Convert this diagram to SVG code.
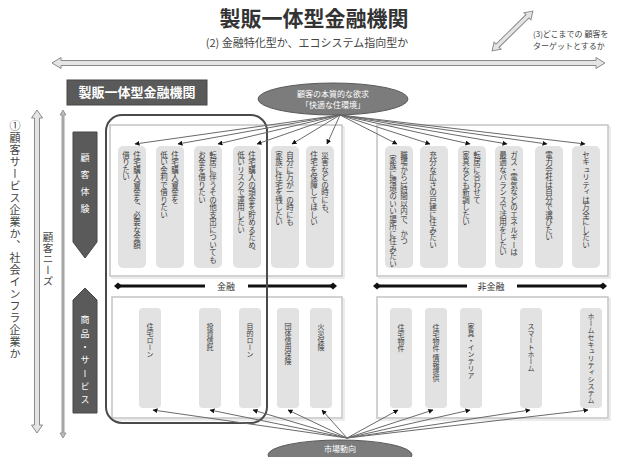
<svg xmlns="http://www.w3.org/2000/svg" width="630" height="457" viewBox="0 0 630 457">
<style>
text{font-family:"Noto Sans CJK JP","Noto Sans",sans-serif;}
.v{writing-mode:vertical-rl;}
.ct{font-size:7.5px;fill:#3a3a3a;}
.bt{font-size:7px;fill:#3a3a3a;}
.col{fill:#e2e2e2;}
.panel{fill:#fff;stroke:#c4c4c4;stroke-width:1.5;}
.shadow{fill:none;stroke:#e6e6e6;stroke-width:1.5;}
.hollow{fill:#e4e4e4;stroke:#8a8a8a;stroke-width:1;}
.dark{fill:#5a5a5a;stroke:#474747;stroke-width:1;}
.ell{fill:#7c7c7c;stroke:#5a5a5a;stroke-width:1;}
.wt{fill:#fff;}
.conn line{stroke:#6a6a6a;stroke-width:1;marker-end:url(#ah);}
.bar{stroke:#111;stroke-width:3;}
.lbl{fill:#444;}
</style>
<defs>
<marker id="ah" viewBox="0 0 10 10" refX="9" refY="5" markerWidth="5" markerHeight="5" markerUnits="userSpaceOnUse" orient="auto">
<path d="M0,0 L10,5 L0,10 Z" fill="#111"/>
</marker>
<path id="dia" d="M-4,0 L0,-3.5 L4,0 L0,3.5 Z" fill="#111"/>
</defs>

<g id="title">
<text x="314" y="26" text-anchor="middle" font-size="21" font-weight="bold" fill="#333">製販一体型金融機関</text>
<text x="307" y="47" text-anchor="middle" font-size="11" class="lbl">(2) 金融特化型か、エコシステム指向型か</text>
</g>

<g id="axis-h">
<path class="hollow" d="M52,63 L61,57.5 L61,60.5 L596,60.5 L596,57.5 L605,63 L596,68.5 L596,65.5 L61,65.5 L61,68.5 Z"/>
</g>

<g id="axis-diag" transform="translate(512.5,31) rotate(-44.5)">
<path class="hollow" d="M-28.5,0 L-21,-5 L-21,-2.2 L21,-2.2 L21,-5 L28.5,0 L21,5 L21,2.2 L-21,2.2 L-21,5 Z"/>
</g>
<g id="label-3">
<text x="533" y="37" font-size="8" class="lbl">(3)どこまでの 顧客を</text>
<text x="533" y="49" font-size="8" class="lbl">ターゲットとするか</text>
</g>

<g id="axis-v">
<path class="hollow" d="M37,110 L42.5,118 L39.5,118 L39.5,425 L42.5,425 L37,433 L31.5,425 L34.5,425 L34.5,118 L31.5,118 Z"/>
<text class="v lbl" x="15" y="120" font-size="11" letter-spacing="1">①顧客サービス企業か、社会インフラ企業か</text>
</g>
<g id="needs">
<path d="M63,110 L66,115 L64,115 L64,433 L66,433 L63,438 L60,433 L62,433 L62,115 L60,115 Z" fill="#bbb" stroke="#888" stroke-width="0.8"/>
<text class="v lbl" x="48" y="232" font-size="10.5" letter-spacing="0.5">顧客ニーズ</text>
</g>

<g id="header-box">
<rect class="dark" x="67" y="80" width="140" height="25"/>
<text class="wt" x="137" y="97" text-anchor="middle" font-size="13" font-weight="bold">製販一体型金融機関</text>
</g>

<g id="tag-experience">
<path class="dark" d="M73,132 L97,132 L97,242 L85,258 L73,242 Z"/>
<text class="v wt" x="85" y="153" font-size="9" letter-spacing="8">顧客体験</text>
</g>
<g id="tag-products">
<path class="dark" d="M85,288 L97,300 L97,413 L73,413 L73,300 Z"/>
<text class="v wt" x="85" y="315.5" font-size="9" letter-spacing="4.3">商品・サービス</text>
</g>

<g id="panel-top-left">
<rect class="shadow" x="112" y="127" width="232" height="151"/>
<rect class="panel" x="110" y="125" width="232" height="151"/>
</g>
<g id="panel-top-right">
<rect class="shadow" x="379" y="127" width="231" height="151"/>
<rect class="panel" x="377" y="125" width="231" height="151"/>
</g>
<g id="panel-bottom-left">
<rect class="shadow" x="114" y="299" width="230" height="121"/>
<rect class="panel" x="112" y="297" width="230" height="121"/>
</g>
<g id="panel-bottom-right">
<rect class="shadow" x="379" y="299" width="231" height="121"/>
<rect class="panel" x="377" y="297" width="231" height="121"/>
</g>

<g id="need-1"><rect class="col" x="118" y="146" width="28" height="122" rx="5"/>
<text class="v ct" x="137" y="151">住宅購入資金を、必要な金額</text><text class="v ct" x="126" y="151">借りたい</text></g>
<g id="need-2"><rect class="col" x="156" y="146" width="28" height="122" rx="5"/>
<text class="v ct" x="175" y="151">住宅購入資金を</text><text class="v ct" x="164" y="151">低い金利で借りたい</text></g>
<g id="need-3"><rect class="col" x="194" y="146" width="28" height="122" rx="5"/>
<text class="v ct" x="213" y="151">転居に伴うその他支出についても</text><text class="v ct" x="202" y="151">お金を借りたい</text></g>
<g id="need-4"><rect class="col" x="233" y="146" width="28" height="122" rx="5"/>
<text class="v ct" x="252" y="151">住宅購入の頭金を貯めるため、</text><text class="v ct" x="241" y="151">低いリスクで運用したい</text></g>
<g id="need-5"><rect class="col" x="271" y="146" width="28" height="122" rx="5"/>
<text class="v ct" x="290" y="151">自分に万が一の時にも</text><text class="v ct" x="279" y="151">家族に住宅を残したい</text></g>
<g id="need-6"><rect class="col" x="306" y="146" width="28" height="122" rx="5"/>
<text class="v ct" x="325" y="151">災害などの時にも、</text><text class="v ct" x="314" y="151">住宅を保障してほしい</text></g>

<g id="need-7"><rect class="col" x="385" y="146" width="28" height="122" rx="5"/>
<text class="v ct" x="404" y="151">職場から1時間以内で、かつ</text><text class="v ct" x="393" y="155">家族に環境のいい場所に住みたい</text></g>
<g id="need-8"><rect class="col" x="420" y="146" width="28" height="122" rx="5"/>
<text class="v ct" x="433" y="151">充分な広さの戸建に住みたい</text></g>
<g id="need-9"><rect class="col" x="458" y="146" width="28" height="122" rx="5"/>
<text class="v ct" x="477" y="151">転居に合わせて</text><text class="v ct" x="466" y="151">家具なども新調したい</text></g>
<g id="need-10"><rect class="col" x="495" y="146" width="28" height="122" rx="5"/>
<text class="v ct" x="514" y="151">ガス・電気などのエネルギーは</text><text class="v ct" x="503" y="151">最適なバランスで活用をしたい</text></g>
<g id="need-11"><rect class="col" x="535" y="146" width="28" height="122" rx="5"/>
<text class="v ct" x="549" y="151">電力会社は自分で選びたい</text></g>
<g id="need-12"><rect class="col" x="572" y="146" width="28" height="122" rx="5"/>
<text class="v ct" x="586" y="151">セキュリティは万全にしたい</text></g>

<g id="bar-finance">
<line class="bar" x1="118" y1="286" x2="205" y2="286"/>
<line class="bar" x1="248" y1="286" x2="333" y2="286"/>
<use href="#dia" x="118" y="286"/><use href="#dia" x="333" y="286"/>
<text x="226" y="289.5" text-anchor="middle" font-size="9" fill="#333">金融</text>
</g>
<g id="bar-nonfinance">
<line class="bar" x1="377" y1="286" x2="467" y2="286"/>
<line class="bar" x1="517" y1="286" x2="603" y2="286"/>
<use href="#dia" x="377" y="286"/><use href="#dia" x="603" y="286"/>
<text x="491" y="289.5" text-anchor="middle" font-size="9" fill="#333">非金融</text>
</g>

<g id="prod-1"><rect class="col" x="139" y="308" width="22" height="100" rx="4"/><text class="v bt" x="150" y="323">住宅ローン</text></g>
<g id="prod-2"><rect class="col" x="199" y="308" width="22" height="100" rx="4"/><text class="v bt" x="210" y="323">投資信託</text></g>
<g id="prod-3"><rect class="col" x="239" y="308" width="22" height="100" rx="4"/><text class="v bt" x="250" y="323">目的ローン</text></g>
<g id="prod-4"><rect class="col" x="277" y="308" width="22" height="100" rx="4"/><text class="v bt" x="288" y="323">団体信用保険</text></g>
<g id="prod-5"><rect class="col" x="310" y="308" width="22" height="100" rx="4"/><text class="v bt" x="321" y="323">火災保険</text></g>
<g id="prod-6"><rect class="col" x="390" y="308" width="22" height="100" rx="4"/><text class="v bt" x="401" y="324">住宅物件</text></g>
<g id="prod-7"><rect class="col" x="425" y="308" width="22" height="100" rx="4"/><text class="v bt" x="436" y="324">住宅物件 情報提供</text></g>
<g id="prod-8"><rect class="col" x="460" y="308" width="22" height="100" rx="4"/><text class="v bt" x="471" y="323">家具・インテリア</text></g>
<g id="prod-9"><rect class="col" x="520" y="308" width="22" height="100" rx="4"/><text class="v bt" x="531" y="323">スマートホーム</text></g>
<g id="prod-10"><rect class="col" x="580" y="308" width="22" height="100" rx="4"/><text class="v bt" x="591" y="313">ホームセキュリティシステム</text></g>

<g id="focus-frame">
<rect x="106" y="115" width="161" height="308" rx="16" fill="none" stroke="#4a4a4a" stroke-width="2"/>
</g>

<g id="connectors" class="conn">
<line x1="340" y1="115" x2="135" y2="144"/>
<line x1="340" y1="115" x2="178" y2="144"/>
<line x1="340" y1="115" x2="218" y2="144"/>
<line x1="340" y1="115" x2="257" y2="144"/>
<line x1="340" y1="115" x2="292" y2="144"/>
<line x1="340" y1="115" x2="327" y2="144"/>
<line x1="340" y1="115" x2="397" y2="144"/>
<line x1="340" y1="115" x2="430" y2="144"/>
<line x1="340" y1="115" x2="470" y2="144"/>
<line x1="340" y1="115" x2="507" y2="144"/>
<line x1="340" y1="115" x2="547" y2="144"/>
<line x1="340" y1="115" x2="585" y2="144"/>
<line x1="347" y1="438" x2="153" y2="410"/>
<line x1="347" y1="438" x2="210" y2="410"/>
<line x1="347" y1="438" x2="253" y2="410"/>
<line x1="347" y1="438" x2="288" y2="410"/>
<line x1="347" y1="438" x2="322" y2="410"/>
<line x1="347" y1="438" x2="398" y2="410"/>
<line x1="347" y1="438" x2="433" y2="410"/>
<line x1="347" y1="438" x2="470" y2="410"/>
<line x1="347" y1="438" x2="530" y2="410"/>
<line x1="347" y1="438" x2="588" y2="410"/>
</g>

<g id="desire">
<ellipse class="ell" cx="333" cy="99" rx="75" ry="16"/>
<text class="wt" x="333" y="97" text-anchor="middle" font-size="8">顧客の本質的な欲求</text>
<text class="wt" x="333" y="108" text-anchor="middle" font-size="8">「快適な住環境」</text>
</g>
<g id="market">
<ellipse class="ell" cx="340" cy="455" rx="72" ry="15"/>
<text class="wt" x="340" y="452" text-anchor="middle" font-size="8">市場動向</text>
</g>
</svg>
